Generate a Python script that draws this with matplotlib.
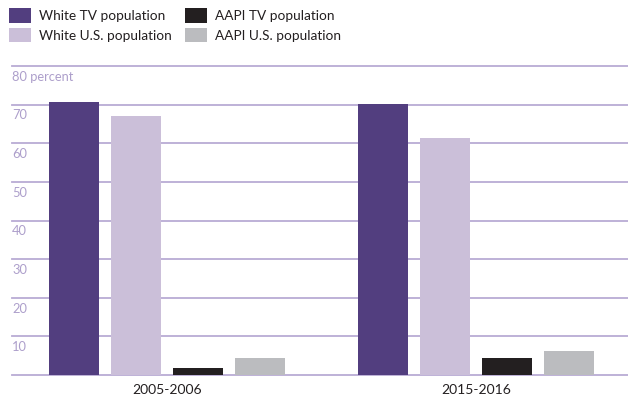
import matplotlib
matplotlib.use("Agg")
import matplotlib.pyplot as plt
import numpy as np

# Data
periods = ["2005-2006", "2015-2016"]
series = ["White TV population", "White U.S. population",
          "AAPI TV population", "AAPI U.S. population"]
white_tv = [70.7, 70.1]
white_us = [67.0, 61.3]
aapi_tv = [1.9, 4.3]
aapi_us = [4.3, 6.1]
yticks = [10, 20, 30, 40, 50, 60, 70, 80]
ytick_labels = ["10", "20", "30", "40", "50", "60", "70", "80 percent"]

colors = ["#523e7f", "#cbbfd9", "#231f20", "#bbbcbf"]
grid_col = "#b9abd4"
label_col = "#ad9fcb"

plt.rcParams["font.family"] = ["Lato", "DejaVu Sans"]

fig = plt.figure(figsize=(6.28, 3.98), dpi=100)
ax = fig.add_axes([12 / 628, 23 / 398, 616 / 628, 309 / 398])

x = np.arange(len(periods))
step = 0.2004
width = 0.1616
for i, (vals, c, name) in enumerate(zip([white_tv, white_us, aapi_tv, aapi_us], colors, series)):
    ax.bar(x + (i - 1.5) * step, vals, width, color=c, label=name, zorder=3)

ax.set_xlim(-0.501, 1.49)
ax.set_ylim(0, 80)
for v in [0] + yticks:
    ax.axhline(v, color=grid_col, lw=1.3, zorder=1, clip_on=False)
for v, t in zip(yticks, ytick_labels):
    ax.annotate(t, xy=(0, v), xycoords=("axes fraction", "data"),
                xytext=(0, -3.5), textcoords="offset points",
                ha="left", va="top", color=label_col, fontsize=9.3)

ax.set_yticks([])
ax.set_xticks(x)
ax.set_xticklabels(periods, fontsize=10, color="#231f20")
ax.tick_params(axis="x", length=0, pad=6.5)
for s in ax.spines.values():
    s.set_visible(False)

fig.legend(loc="upper left", bbox_to_anchor=(-0.005, 1.01), ncol=2,
           frameon=False, fontsize=9.8, handlelength=1.62, handleheight=1.25,
           handletextpad=0.6, columnspacing=0.95, labelspacing=0.38,
           labelcolor="#231f20")

fig.savefig("out.png", dpi=100)
